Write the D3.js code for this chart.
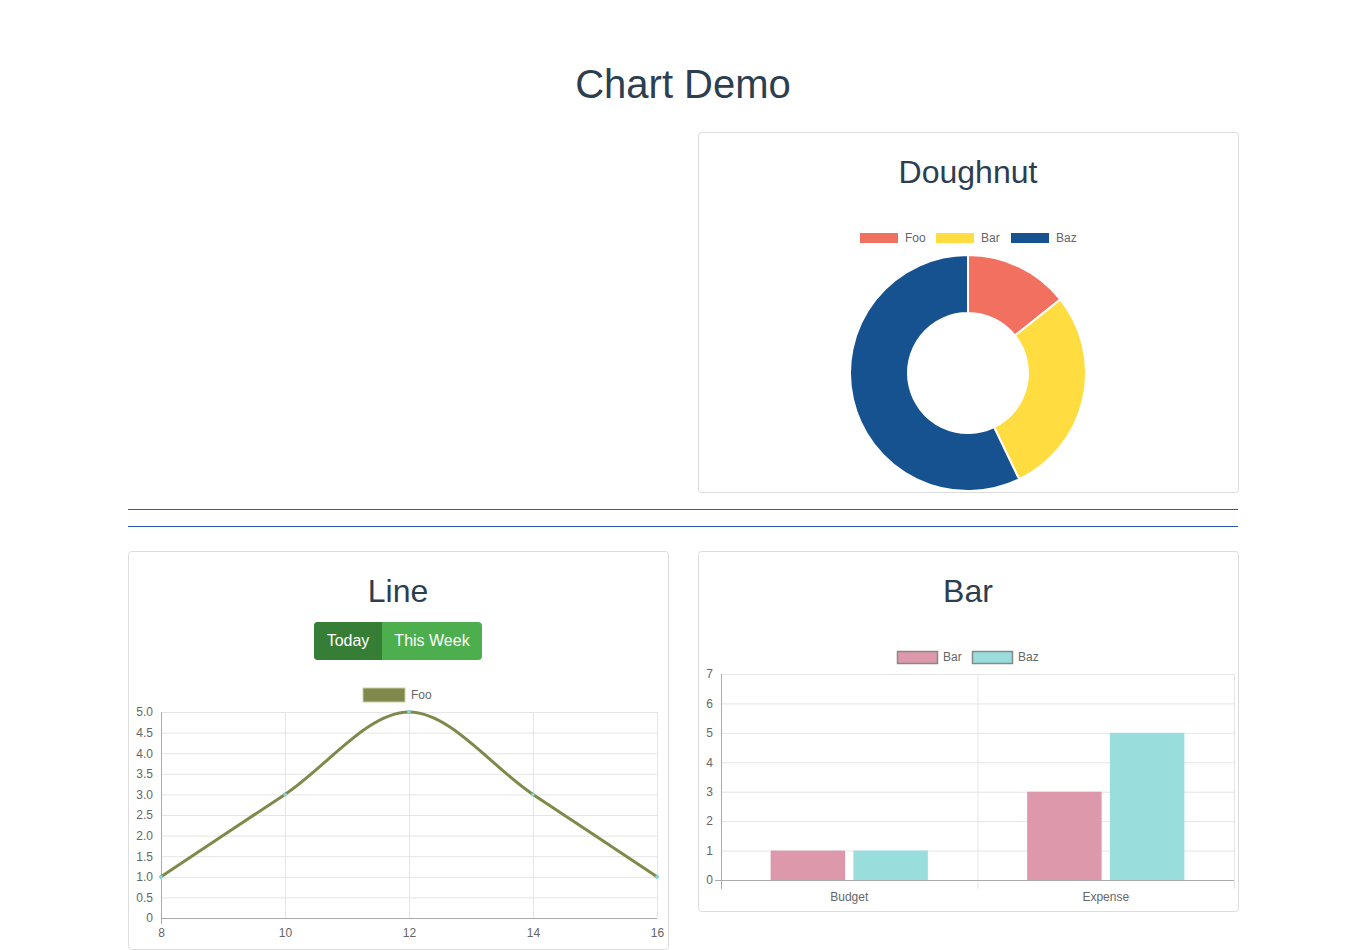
<!DOCTYPE html>
<html><head><meta charset="utf-8">
<script src="https://cdn.jsdelivr.net/npm/d3@7"></script>
<style>
body{margin:0;background:#fff;font-family:"Helvetica Neue",Helvetica,Arial,"Liberation Sans",sans-serif;}
svg text{font-family:"Helvetica Neue",Helvetica,Arial,"Liberation Sans",sans-serif;}
</style></head>
<body>
<svg id="c" width="1366" height="950"></svg>
<script>
var donutLabels = ['Foo', 'Bar', 'Baz'];
var donutValues = [1, 2, 4];
var donutColors = ['#f1705f', '#ffdc40', '#175290'];

var lineX = [8, 10, 12, 14, 16];
var lineY = [1, 3, 5, 3, 1];

var barCategories = ['Budget', 'Expense'];
var barSeries = ['Bar', 'Baz'];
var barValues = [[1, 3], [1, 5]];
var barColors = ['#dd99ab', '#99dddd'];

var svg = d3.select('#c');
var ink = '#2c3e50', tickCol = '#666', gridCol = '#e5e5e5';

svg.append('text').attr('x', 683).attr('y', 98).attr('text-anchor', 'middle')
  .attr('font-size', 40).attr('fill', ink).text('Chart Demo');

function panel(x, y, w, h, title) {
  svg.append('rect').attr('x', x + 0.5).attr('y', y + 0.5).attr('width', w).attr('height', h)
    .attr('rx', 3).attr('fill', '#fff').attr('stroke', '#ddd');
  svg.append('text').attr('x', x + w / 2).attr('y', y + 51).attr('text-anchor', 'middle')
    .attr('font-size', 32).attr('fill', ink).text(title);
}
panel(698, 132, 540, 360, 'Doughnut');
panel(128, 551, 540, 398, 'Line');
panel(698, 551, 540, 360, 'Bar');

[509.5, 526.5].forEach(function(y) {
  svg.append('line').attr('x1', 128).attr('x2', 1238).attr('y1', y).attr('y2', y)
    .attr('stroke', '#2a5db0').attr('stroke-width', 1);
});

// doughnut
var leg = svg.append('g').attr('font-size', 12).attr('fill', tickCol);
var lx = [860, 936, 1011];
donutLabels.forEach(function(d, i) {
  leg.append('rect').attr('x', lx[i]).attr('y', 233).attr('width', 38).attr('height', 10).attr('fill', donutColors[i]);
  leg.append('text').attr('x', lx[i] + 45).attr('y', 242).text(d);
});
var pie = d3.pie().sort(null)(donutValues);
var arc = d3.arc().innerRadius(60).outerRadius(118);
svg.append('g').attr('transform', 'translate(968,373)').selectAll('path').data(pie).join('path')
  .attr('d', arc).attr('fill', function(d, i) { return donutColors[i]; })
  .attr('stroke', '#fff').attr('stroke-width', 2);

// buttons
svg.append('rect').attr('x', 314).attr('y', 622).attr('width', 168).attr('height', 38).attr('rx', 4).attr('fill', '#4cae4c');
svg.append('path').attr('d', 'M382,622H318a4,4 0 0 0 -4,4V656a4,4 0 0 0 4,4H382Z').attr('fill', '#367d36');
svg.append('text').attr('x', 348).attr('y', 646).attr('text-anchor', 'middle').attr('font-size', 16).attr('fill', '#fff').text('Today');
svg.append('text').attr('x', 432).attr('y', 646).attr('text-anchor', 'middle').attr('font-size', 16).attr('fill', '#fff').text('This Week');

// line chart
var xL = d3.scaleLinear().domain([8, 16]).range([161, 657]);
var yL = d3.scaleLinear().domain([0, 5]).range([918, 712]);
svg.append('rect').attr('x', 363).attr('y', 688).attr('width', 42).attr('height', 14).attr('fill', '#80894b').attr('stroke', '#c9cfa6');
svg.append('text').attr('x', 411).attr('y', 699).attr('font-size', 12).attr('fill', tickCol).text('Foo');

var gx = svg.append('g').attr('transform', 'translate(0,918)')
  .call(d3.axisBottom(xL).tickValues(lineX).tickSize(-206).tickPadding(10));
var gy = svg.append('g').attr('transform', 'translate(161,0)')
  .call(d3.axisLeft(yL).ticks(10).tickSize(-496).tickPadding(8)
    .tickFormat(function(d) { return d === 0 ? '0' : d3.format('.1f')(d); }));
[gx, gy].forEach(function(g) {
  g.select('.domain').remove();
  g.selectAll('line').attr('stroke', gridCol);
  g.selectAll('text').attr('fill', tickCol).attr('font-size', 12).attr('font-family', 'inherit');
});
svg.append('line').attr('x1', 161).attr('x2', 657).attr('y1', 918.5).attr('y2', 918.5).attr('stroke', '#aaa');
svg.append('line').attr('x1', 161.5).attr('x2', 161.5).attr('y1', 712).attr('y2', 924).attr('stroke', '#aaa');

var pts = lineX.map(function(x, i) { return [x, lineY[i]]; });
svg.append('path').datum(pts)
  .attr('d', d3.line().x(function(d) { return xL(d[0]); }).y(function(d) { return yL(d[1]); }).curve(d3.curveMonotoneX))
  .attr('fill', 'none').attr('stroke', '#80894b').attr('stroke-width', 3);
svg.append('g').selectAll('circle').data(pts).join('circle')
  .attr('cx', function(d) { return xL(d[0]); }).attr('cy', function(d) { return yL(d[1]); })
  .attr('r', 1.5).attr('fill', '#9dd').attr('stroke', '#6cc');

// bar chart
var x0 = d3.scaleBand().domain(barCategories).range([721, 1234]);
var x1 = d3.scaleBand().domain(barSeries).range([0, x0.bandwidth()]).paddingOuter(0.6).paddingInner(0.1);
var yB = d3.scaleLinear().domain([0, 7]).range([880, 674]);
var blx = [897, 972];
barSeries.forEach(function(s, i) {
  svg.append('rect').attr('x', blx[i] + 0.5).attr('y', 651.5).attr('width', 40).attr('height', 12)
    .attr('fill', barColors[i]).attr('stroke', '#888').attr('stroke-width', 1.5);
  svg.append('text').attr('x', blx[i] + 46).attr('y', 661).attr('font-size', 12).attr('fill', tickCol).text(s);
});
var gyb = svg.append('g').attr('transform', 'translate(721,0)')
  .call(d3.axisLeft(yB).ticks(7).tickSize(-513).tickPadding(8));
gyb.select('.domain').remove();
gyb.selectAll('line').attr('stroke', gridCol);
gyb.selectAll('text').attr('fill', tickCol).attr('font-size', 12).attr('font-family', 'inherit');
[721, 977.5, 1234].forEach(function(x) {
  svg.append('line').attr('x1', x + 0.5).attr('x2', x + 0.5).attr('y1', 674).attr('y2', 889).attr('stroke', x === 721 ? '#aaa' : gridCol);
});
svg.append('line').attr('x1', 715).attr('x2', 1234).attr('y1', 880.5).attr('y2', 880.5).attr('stroke', '#aaa');
barCategories.forEach(function(c, ci) {
  barSeries.forEach(function(s, si) {
    var v = barValues[si][ci];
    svg.append('rect').attr('x', x0(c) + x1(s)).attr('width', x1.bandwidth())
      .attr('y', yB(v)).attr('height', yB(0) - yB(v)).attr('fill', barColors[si]);
  });
  svg.append('text').attr('x', x0(c) + x0.bandwidth() / 2).attr('y', 901).attr('text-anchor', 'middle')
    .attr('font-size', 12).attr('fill', tickCol).text(c);
});
</script>
</body></html>
